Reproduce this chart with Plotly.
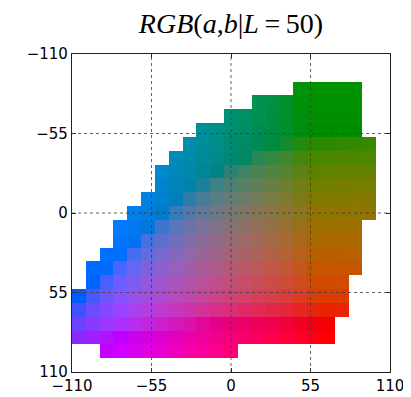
import numpy as np
import plotly.graph_objects as go

# ---- data -------------------------------------------------------------
L_VALUE = 50
A_VALUES = list(range(-110, 111, 10))   # rows (vertical axis, top -> bottom)
B_VALUES = list(range(-110, 111, 10))   # columns (horizontal axis)
# gamut extent per row (first/last b value shown), None = empty row
B_FIRST = [None, None, 50, 20, 0, -20, -30, -40, -50, -50, -60, -70,
           -80, -80, -90, -100, -100, -110, -110, -110, -110, -90, None]
B_LAST = [None, None, 90, 90, 90, 90, 100, 100, 100, 100, 100, 100,
          90, 90, 90, 90, 80, 80, 80, 70, 70, 0, None]
TICK_VALUES = [-110, -55, 0, 55, 110]
TICK_TEXT = ["\u2212110", "\u221255", "0", "55", "110"]
TITLE = "<i>RGB</i>(<i>a</i>,<i>b</i>|<i>L</i>\u2009=\u200950)"


# ---- Lab -> sRGB colour conversion (D65) --------------------------------
def lab_to_rgb(L, a, b):
    fy = (L + 16.0) / 116.0
    fx = fy + a / 500.0
    fz = fy - b / 200.0

    def finv(t):
        return t ** 3 if t > 6.0 / 29.0 else (t - 16.0 / 116.0) / 7.787

    X = 0.95047 * finv(fx)
    Y = 1.00000 * finv(fy)
    Z = 1.08883 * finv(fz)
    r = 3.2406 * X - 1.5372 * Y - 0.4986 * Z
    g = -0.9689 * X + 1.8758 * Y + 0.0415 * Z
    bl = 0.0557 * X - 0.2040 * Y + 1.0570 * Z
    out = []
    for c in (r, g, bl):
        c = min(max(c, 0.0), 1.0)
        c = 1.055 * c ** (1 / 2.4) - 0.055 if c > 0.0031308 else 12.92 * c
        out.append(int(round(min(max(c, 0.0), 1.0) * 255)))
    return out


img = []
for i, a in enumerate(A_VALUES):
    row = []
    for b in B_VALUES:
        lo, hi = B_FIRST[i], B_LAST[i]
        if lo is not None and lo <= b <= hi:
            row.append(lab_to_rgb(L_VALUE, a, b) + [1])
        else:
            row.append([255, 255, 255, 0])
    img.append(row)

n_cols = len(B_VALUES)
n_rows = len(A_VALUES)
dx = (B_VALUES[-1] - B_VALUES[0]) / n_cols
dy = (A_VALUES[-1] - A_VALUES[0]) / n_rows

fig = go.Figure(go.Image(
    z=img, colormodel="rgba",
    x0=B_VALUES[0] + dx / 2, dx=dx,
    y0=A_VALUES[0] + dy / 2, dy=dy,
    hoverinfo="skip",
))

# dotted grid lines drawn above the image
for t in TICK_VALUES[1:-1]:
    fig.add_shape(type="line", xref="x", yref="paper", x0=t, x1=t, y0=0, y1=1,
                  line=dict(color="rgba(60,60,60,0.8)", width=1, dash="dot"),
                  layer="above")
    fig.add_shape(type="line", xref="paper", yref="y", x0=0, x1=1, y0=t, y1=t,
                  line=dict(color="rgba(60,60,60,0.8)", width=1, dash="dot"),
                  layer="above")

axis_common = dict(
    tickvals=TICK_VALUES, ticktext=TICK_TEXT,
    showgrid=False, zeroline=False, automargin=False,
    showline=True, linecolor="#222", linewidth=1.2, mirror="ticks",
    ticks="inside", ticklen=4, tickcolor="#222",
    tickfont=dict(family="DejaVu Sans", size=15, color="black"),
)

# the page places the figure 8 px in from the top-left corner
W, H = 403, 389
fig.update_layout(
    width=W, height=H,
    margin=dict(l=64, r=21, t=46, b=25),
    paper_bgcolor="white", plot_bgcolor="white",
    title=dict(text=TITLE, x=0.5, xref="paper", xanchor="center",
               y=1 - 15 / H, yref="container", yanchor="middle",
               font=dict(family="Liberation Serif", size=28, color="black"),
               automargin=False),
    xaxis=dict(range=[-110, 110], ticklabelstandoff=0, **axis_common),
    yaxis=dict(range=[110, -110], autorange=False, **axis_common),
    showlegend=False,
)

fig.write_html("out.html")
